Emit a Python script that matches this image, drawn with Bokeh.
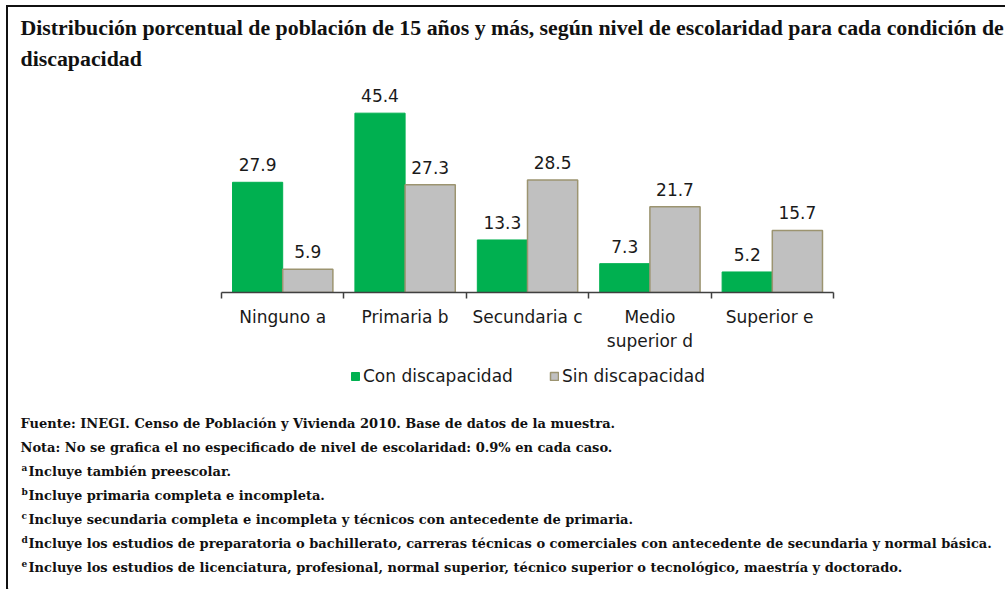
from bokeh.plotting import figure
from bokeh.layouts import column
from bokeh.models import (Range1d, LinearAxis, FixedTicker, Label, Legend,
                          LegendItem, ColumnDataSource)
from bokeh.core.properties import value
from bokeh.embed import file_html
from bokeh.resources import INLINE

# ---------------- data ----------------
categories = ["Ninguno a", "Primaria b", "Secundaria c", "Medio\nsuperior d", "Superior  e"]
con_discapacidad = [27.9, 45.4, 13.3, 7.3, 5.2]
sin_discapacidad = [5.9, 27.3, 28.5, 21.7, 15.7]
series_names = ["Con discapacidad", "Sin discapacidad"]

title_lines = [
    "Distribución porcentual de población de 15 años y más, según nivel de escolaridad para cada condición de",
    "discapacidad",
]
note_marks = ["", "", "a", "b", "c", "d", "e"]
note_texts = [
    "Fuente: INEGI. Censo de Población y Vivienda 2010. Base de datos de la muestra.",
    "Nota: No se grafica el no especificado de nivel de escolaridad: 0.9% en cada caso.",
    "Incluye también preescolar.",
    "Incluye primaria completa e incompleta.",
    "Incluye secundaria completa e incompleta y técnicos con antecedente de primaria.",
    "Incluye los estudios de preparatoria o bachillerato, carreras técnicas o comerciales con antecedente de secundaria y normal básica.",
    "Incluye los estudios de licenciatura, profesional, normal superior, técnico superior o tecnológico, maestría y doctorado.",
]

# ---------------- layout (page pixels) ----------------
OX, OY = 8, 7                 # content origin inside the border
W = 997
AX_L, AX_R, FRAME_T, FRAME_B = 221, 833, 80, 292
MAIN_BOTTOM = 356
TOTAL_H = 582
PAGE_BOTTOM = OY + TOTAL_H
PX_PER_UNIT = 3.95
N = len(categories)
X_PX = (AX_R - AX_L) / N

GREEN = "#00B050"
GRAY = "#C0C0C0"
GRAY_LINE = "#9C9470"
TEXT = "#1a1a1a"
SANS = "DejaVu Sans"
TITLE_FONT = "Liberation Serif"
NOTE_FONT = "DejaVu Serif"


def text_panel(top, bottom):
    h = bottom - top
    f = figure(width=W, height=h, output_backend="svg", toolbar_location=None,
               x_axis_location=None, y_axis_location=None,
               x_range=Range1d(0, W), y_range=Range1d(h, 0),
               min_border=0, min_border_left=0, min_border_right=0,
               min_border_top=0, min_border_bottom=0)
    f.xgrid.visible = False
    f.ygrid.visible = False
    f.outline_line_color = None
    return f


def put(f, top, text, px, py, size, font):
    f.add_layout(Label(x=px - OX, y=py - top, text=text, text_font=font,
                       text_font_size=size, text_font_style="bold",
                       text_color="#111111", text_baseline="middle",
                       text_align="left"))


# ---- title ----
f_title = text_panel(OY, FRAME_T)
for k, line in enumerate(title_lines):
    put(f_title, OY, line, 20, 27 + 31 * k, "21.85px", TITLE_FONT)

# ---- main chart ----
x0 = -(AX_L - OX) / X_PX
x1 = N + (OX + W - AX_R) / X_PX
p = figure(width=W, height=MAIN_BOTTOM - FRAME_T, output_backend="svg",
           toolbar_location=None, x_axis_location=None, y_axis_location=None,
           x_range=Range1d(x0, x1),
           y_range=Range1d(0, (FRAME_B - FRAME_T) / PX_PER_UNIT),
           min_border_left=0, min_border_right=0,
           min_border_top=0, min_border_bottom=MAIN_BOTTOM - FRAME_B)
p.xgrid.visible = False
p.ygrid.visible = False
p.outline_line_color = None

idx = list(range(N))
src = ColumnDataSource(dict(
    xg=[i + 0.295 for i in idx], xs=[i + 0.705 for i in idx],
    con=con_discapacidad, sin=sin_discapacidad,
    con_t=[f"{v:.1f}" for v in con_discapacidad],
    sin_t=[f"{v:.1f}" for v in sin_discapacidad],
))

bar_con = dict(fill_color=GREEN, line_color=GREEN, line_width=1)
bar_sin = dict(fill_color=GRAY, line_color=GRAY_LINE, line_width=1.5)
p.vbar(x="xg", top="con", width=0.41, bottom=0, source=src, **bar_con)
p.vbar(x="xs", top="sin", width=0.41, bottom=0, source=src, **bar_sin)

for xcol, tcol, ycol in (("xg", "con_t", "con"), ("xs", "sin_t", "sin")):
    p.text(x=xcol, y=ycol, text=tcol, source=src, text_align="center",
           text_baseline="bottom", y_offset=-11, text_font=value(SANS),
           text_font_size="17px", text_color=TEXT)

ax = LinearAxis(ticker=FixedTicker(ticks=[i + 0.5 for i in idx],
                                   minor_ticks=list(range(N + 1))),
                bounds=(0, N))
ax.major_label_overrides = {i + 0.5: c for i, c in enumerate(categories)}
ax.major_tick_line_color = None
ax.major_tick_out = 0
ax.major_tick_in = 0
ax.minor_tick_out = 6
ax.minor_tick_in = 0
ax.minor_tick_line_color = "#404040"
ax.minor_tick_line_width = 1.5
ax.axis_line_color = "#404040"
ax.axis_line_width = 1.5
ax.major_label_standoff = 8
ax.major_label_text_font = SANS
ax.major_label_text_font_size = "17px"
ax.major_label_text_color = TEXT
p.add_layout(ax, "below")

# ---- legend + notes ----
f_notes = text_panel(MAIN_BOTTOM, PAGE_BOTTOM)
# legend renderers live on a range far outside the visible area of this panel
f_notes.extra_y_ranges = {"legend_only": Range1d(1000, 2000)}
f_notes.extra_x_ranges = {"legend_only": Range1d(1000, 2000)}
lg_con = f_notes.vbar(x="xg", top="con", width=0.41, source=src,
                      x_range_name="legend_only", y_range_name="legend_only", **bar_con)
lg_sin = f_notes.vbar(x="xs", top="sin", width=0.41, source=src,
                      x_range_name="legend_only", y_range_name="legend_only", **bar_sin)
legend = Legend(items=[LegendItem(label=series_names[0], renderers=[lg_con]),
                       LegendItem(label=series_names[1], renderers=[lg_sin])],
                orientation="horizontal", location=(350 - OX, PAGE_BOTTOM - 386),
                glyph_width=10, glyph_height=10, label_height=20,
                label_standoff=3, spacing=36, padding=0, margin=0,
                border_line_color=None, background_fill_alpha=0,
                label_text_font=SANS, label_text_font_size="17px",
                label_text_color=TEXT)
f_notes.add_layout(legend)

for k, (m, t) in enumerate(zip(note_marks, note_texts)):
    y = 423 + 24 * k
    if m:
        put(f_notes, MAIN_BOTTOM, m, 21, y - 4, "9px", NOTE_FONT)
        put(f_notes, MAIN_BOTTOM, t, 28, y, "13px", NOTE_FONT)
    else:
        put(f_notes, MAIN_BOTTOM, t, 20, y, "13px", NOTE_FONT)

layout = column(f_title, p, f_notes, spacing=0,
                styles={"margin-left": "6px", "margin-top": "5px",
                        "border-left": "2px solid #111",
                        "border-top": "2px solid #111"})

open("out.html", "w").write(file_html(layout, INLINE))
